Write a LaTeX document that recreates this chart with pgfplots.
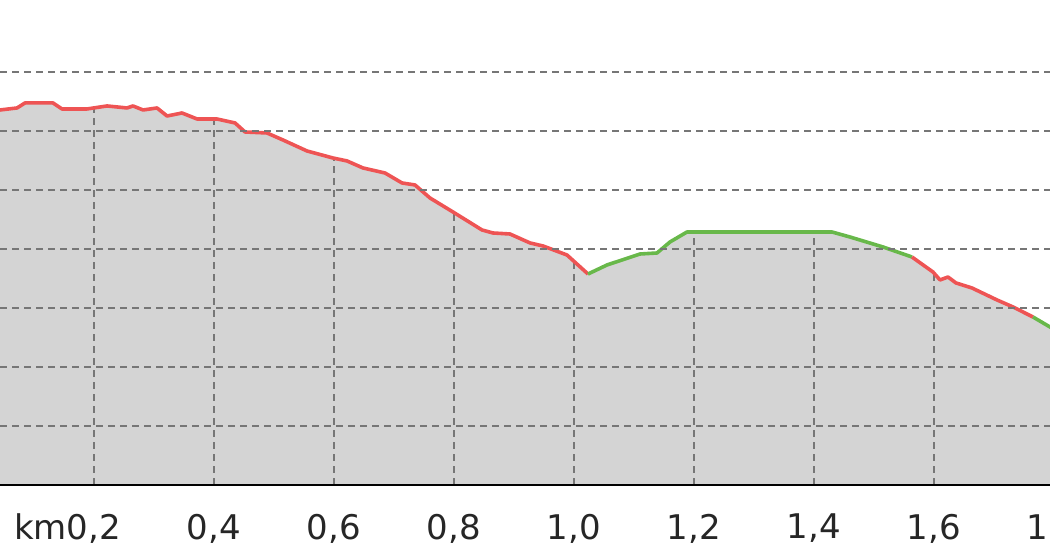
\documentclass[border=0pt]{standalone}
\usepackage{pgfplots}
\pgfplotsset{compat=1.18}
\usepackage{fontspec}
\setmainfont{DejaVu Sans}
\definecolor{redline}{RGB}{238,84,84}
\definecolor{greenline}{RGB}{104,184,74}
\definecolor{fillgray}{RGB}{212,212,212}
\definecolor{gridgray}{RGB}{118,118,118}
\begin{document}
\begin{tikzpicture}
\path[use as bounding box] (0,-37.5pt) rectangle (525pt,242.5pt);
\begin{scope}
\clip (0,-37.5pt) rectangle (525pt,242.5pt);
\begin{axis}[
  scale only axis,
  width=527pt, height=242.5pt,
  at={(0,0)}, anchor=south west,
  xmin=0.0433, xmax=1.8,
  ymin=0, ymax=8.22,
  axis x line*=bottom, axis y line*=left,
  x axis line style={line width=1.1pt, black, -},
  y axis line style={draw=none},
  xtick={0.2,0.4,0.6,0.8,1.0,1.2,1.4,1.6,1.8},
  xticklabels={{\llap{km}0,2},{0,4},{0,6},{0,8},{1,0},{1,2},{1,4},{1,6},{1,8}},
  xtick style={draw=none},
  ytick={1,2,3,4,5,6,7},
  yticklabels={},
  ytick style={draw=none},
  axis on top,
  ymajorgrids,
  major grid style={gridgray, line width=0.8pt, dash pattern=on 3.5pt off 2.5pt},
  tick label style={font=\fontsize{17}{20}\selectfont, text=black!85},
  xticklabel style={yshift=-11pt},
  clip=true,
]
% filled profile
\addplot[fill=fillgray, draw=none] coordinates {
(0.0433,6.356)(0.0717,6.390)(0.085,6.475)(0.1317,6.475)(0.1467,6.373)(0.1883,6.373)
(0.2217,6.424)(0.255,6.390)(0.265,6.424)(0.2817,6.356)(0.305,6.390)(0.3217,6.254)
(0.3467,6.305)(0.3717,6.203)(0.405,6.203)(0.435,6.136)(0.4517,5.983)(0.4883,5.966)
(0.515,5.847)(0.555,5.661)(0.5983,5.542)(0.6217,5.492)(0.6483,5.373)(0.685,5.288)
(0.7133,5.119)(0.735,5.085)(0.76,4.864)(0.7983,4.627)(0.8467,4.322)(0.865,4.271)
(0.8933,4.254)(0.9267,4.102)(0.9483,4.051)(0.9883,3.898)(1.0233,3.576)
(1.055,3.729)(1.11,3.915)(1.1383,3.932)(1.16,4.119)(1.1883,4.288)(1.43,4.288)
(1.46,4.203)(1.515,4.034)(1.5633,3.864)
(1.5983,3.610)(1.61,3.475)(1.6233,3.525)(1.6367,3.424)(1.6633,3.339)(1.705,3.136)
(1.7317,3.017)(1.765,2.847)(1.7933,2.678)(1.8,2.64)
} \closedcycle;
% vertical grid lines below the profile
\addplot[ycomb, draw=gridgray, line width=0.8pt, dash pattern=on 3.5pt off 2.5pt] coordinates {
(0.2,6.39)(0.4,6.20)(0.6,5.54)(0.8,4.63)(1.0,3.83)(1.2,4.29)(1.4,4.29)(1.6,3.61)
};
% red segments
\addplot[redline, line width=1.8pt, line join=round] coordinates {
(0.0433,6.356)(0.0717,6.390)(0.085,6.475)(0.1317,6.475)(0.1467,6.373)(0.1883,6.373)
(0.2217,6.424)(0.255,6.390)(0.265,6.424)(0.2817,6.356)(0.305,6.390)(0.3217,6.254)
(0.3467,6.305)(0.3717,6.203)(0.405,6.203)(0.435,6.136)(0.4517,5.983)(0.4883,5.966)
(0.515,5.847)(0.555,5.661)(0.5983,5.542)(0.6217,5.492)(0.6483,5.373)(0.685,5.288)
(0.7133,5.119)(0.735,5.085)(0.76,4.864)(0.7983,4.627)(0.8467,4.322)(0.865,4.271)
(0.8933,4.254)(0.9267,4.102)(0.9483,4.051)(0.9883,3.898)(1.0233,3.576)
};
\addplot[greenline, line width=1.8pt, line join=round] coordinates {
(1.0233,3.576)(1.055,3.729)(1.11,3.915)(1.1383,3.932)(1.16,4.119)(1.1883,4.288)(1.43,4.288)
(1.46,4.203)(1.515,4.034)(1.5633,3.864)
};
\addplot[redline, line width=1.8pt, line join=round] coordinates {
(1.5633,3.864)(1.5983,3.610)(1.61,3.475)(1.6233,3.525)(1.6367,3.424)(1.6633,3.339)(1.705,3.136)
(1.7317,3.017)(1.765,2.847)
};
\addplot[greenline, line width=1.8pt, line join=round] coordinates {
(1.765,2.847)(1.7933,2.678)(1.8,2.64)
};
\end{axis}
\end{scope}
\end{tikzpicture}
\end{document}
